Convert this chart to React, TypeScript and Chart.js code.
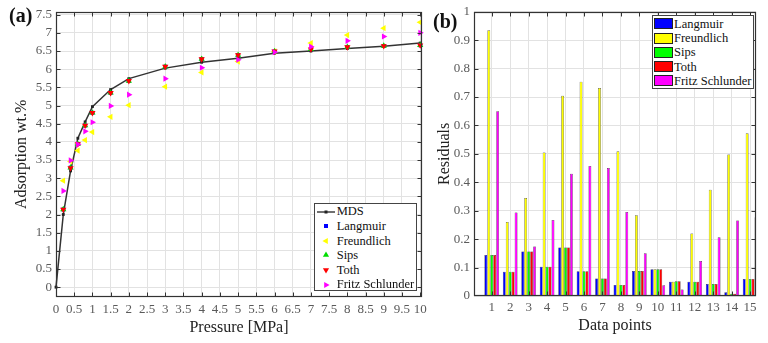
import React, { useEffect, useRef } from 'react';
import { Chart, registerables } from 'chart.js';
Chart.register(...registerables);

// ---------- Panel (a) data ----------
const mdsPressures = [0, 0.2, 0.4, 0.6, 0.8, 1, 1.5, 2, 3, 4, 5, 6, 7, 8, 9, 10];
const mdsValues = [0, 2.0, 3.2, 4.1, 4.55, 4.97, 5.44, 5.74, 6.03, 6.19, 6.3, 6.44, 6.5, 6.57, 6.63, 6.72];
const fitPressures = [0.2, 0.4, 0.6, 0.8, 1, 1.5, 2, 3, 4, 5, 6, 7, 8, 9, 10];
const langmuirFit = [2.14, 3.29, 3.94, 4.45, 4.8, 5.35, 5.68, 6.07, 6.28, 6.39, 6.49, 6.55, 6.61, 6.64, 6.66];
const freundlichFit = [2.93, 3.46, 3.76, 4.05, 4.27, 4.69, 5.01, 5.52, 5.91, 6.21, 6.49, 6.72, 6.94, 7.13, 7.29];
const sipsFit = [2.14, 3.29, 3.94, 4.45, 4.8, 5.35, 5.68, 6.07, 6.28, 6.39, 6.49, 6.55, 6.61, 6.64, 6.66];
const tothFit = [2.14, 3.28, 3.94, 4.45, 4.8, 5.35, 5.68, 6.07, 6.28, 6.39, 6.49, 6.55, 6.61, 6.64, 6.66];
const fritzFit = [2.65, 3.49, 3.93, 4.29, 4.54, 4.99, 5.3, 5.74, 6.04, 6.26, 6.47, 6.62, 6.78, 6.9, 7.0];
const xTicksA = [0, 0.5, 1, 1.5, 2, 2.5, 3, 3.5, 4, 4.5, 5, 5.5, 6, 6.5, 7, 7.5, 8, 8.5, 9, 9.5, 10];
const yTicksA = [0, 0.5, 1, 1.5, 2, 2.5, 3, 3.5, 4, 4.5, 5, 5.5, 6, 6.5, 7, 7.5];

// ---------- Panel (b) data ----------
const dataPoints = [1, 2, 3, 4, 5, 6, 7, 8, 9, 10, 11, 12, 13, 14, 15];
const resLangmuir = [0.144, 0.085, 0.157, 0.103, 0.171, 0.087, 0.062, 0.039, 0.088, 0.094, 0.05, 0.05, 0.042, 0.013, 0.06];
const resFreundlich = [0.935, 0.26, 0.345, 0.505, 0.705, 0.754, 0.732, 0.509, 0.284, 0.094, 0.05, 0.22, 0.374, 0.498, 0.573];
const resSips = [0.144, 0.085, 0.157, 0.103, 0.171, 0.087, 0.062, 0.039, 0.088, 0.094, 0.052, 0.05, 0.042, 0.008, 0.06];
const resToth = [0.144, 0.085, 0.157, 0.103, 0.171, 0.087, 0.062, 0.039, 0.088, 0.094, 0.052, 0.05, 0.042, 0.008, 0.06];
const resFritz = [0.65, 0.294, 0.174, 0.267, 0.43, 0.457, 0.45, 0.296, 0.15, 0.038, 0.023, 0.123, 0.207, 0.266, 0.277];
const yTicksB = [0, 0.1, 0.2, 0.3, 0.4, 0.5, 0.6, 0.7, 0.8, 0.9, 1];

const SERIF = '"Liberation Serif", "Times New Roman", serif';
const TICK_COLOR = '#5a5a5a';
const GRID_COLOR = '#e2e2e2';

const framePlugin = {
  id: 'frameTicks',
  afterDatasetsDraw(chart: any, _args: any, opts: any) {
    const { ctx, chartArea } = chart;
    const left = Math.round(chartArea.left) + 0.5;
    const right = Math.round(chartArea.right) - 0.5;
    const top = Math.round(chartArea.top) + 0.5;
    const bottom = Math.round(chartArea.bottom) - 0.5;
    const len = opts.len ?? 4;
    const xs = chart.scales.x;
    const ys = chart.scales.y;
    ctx.save();
    ctx.strokeStyle = opts.color || '#333';
    ctx.lineWidth = 1;
    ctx.beginPath();
    xs.ticks.forEach((t: any) => {
      const px = Math.round(xs.getPixelForValue(t.value)) + 0.5;
      if (px < left + 1 || px > right - 1) return;
      ctx.moveTo(px, bottom);
      ctx.lineTo(px, bottom - len);
      ctx.moveTo(px, top);
      ctx.lineTo(px, top + len);
    });
    ys.ticks.forEach((t: any) => {
      const py = Math.round(ys.getPixelForValue(t.value)) + 0.5;
      if (py < top + 1 || py > bottom - 1) return;
      ctx.moveTo(left, py);
      ctx.lineTo(left + len, py);
      ctx.moveTo(right, py);
      ctx.lineTo(right - len, py);
    });
    ctx.stroke();
    ctx.lineWidth = 1.2;
    ctx.strokeRect(left, top, right - left, bottom - top);
    ctx.restore();
  },
};

const fmt = (v: number) => String(Number(v.toFixed(2)));

function pts(xs: number[], ys: number[]) {
  return xs.map((x, i) => ({ x, y: ys[i] }));
}

function Tri({ color, rot }: { color: string; rot: number }) {
  return (
    <svg width="10" height="10" viewBox="-5 -5 10 10" style={{ display: 'block' }}>
      <polygon points="0,-3.6 3.1,1.8 -3.1,1.8" fill={color} transform={`rotate(${rot})`} />
    </svg>
  );
}

export default function App() {
  const aRef = useRef<HTMLCanvasElement>(null);
  const bRef = useRef<HTMLCanvasElement>(null);

  useEffect(() => {
    const tickFont = { family: SERIF, size: 13 };
    const titleFont = { family: SERIF, size: 16 };

    const chartA = new Chart(aRef.current as HTMLCanvasElement, {
      type: 'scatter',
      data: {
        datasets: [
          {
            label: 'MDS', data: pts(mdsPressures, mdsValues), showLine: true,
            borderColor: '#333', borderWidth: 1.5, pointStyle: 'rect', pointRadius: 2,
            pointBackgroundColor: '#222', pointBorderColor: '#222', pointBorderWidth: 0, order: 5, clip: false,
          } as any,
          {
            label: 'Langmuir', data: pts(fitPressures, langmuirFit), pointStyle: 'rect', pointRadius: 2.8,
            pointBackgroundColor: '#0000ff', pointBorderWidth: 0, order: 4, clip: false,
          },
          {
            label: 'Freundlich', data: pts(fitPressures, freundlichFit), pointStyle: 'triangle', pointRotation: 270,
            pointRadius: 3.6, pointBackgroundColor: '#ffff00', pointBorderWidth: 0, order: 3, clip: false,
          },
          {
            label: 'Sips', data: pts(fitPressures, sipsFit), pointStyle: 'triangle', pointRotation: 0,
            pointRadius: 3.6, pointBackgroundColor: '#00dd00', pointBorderWidth: 0, order: 2, clip: false,
          },
          {
            label: 'Toth', data: pts(fitPressures, tothFit), pointStyle: 'triangle', pointRotation: 180,
            pointRadius: 3.6, pointBackgroundColor: '#ff0000', pointBorderWidth: 0, order: 1, clip: false,
          },
          {
            label: 'Fritz Schlunder', data: pts(fitPressures, fritzFit), pointStyle: 'triangle', pointRotation: 90,
            pointRadius: 3.6, pointBackgroundColor: '#ff00ff', pointBorderWidth: 0, order: 0, clip: false,
          },
        ] as any,
      },
      options: {
        responsive: false,
        animation: false,
        devicePixelRatio: 1,
        layout: { padding: { left: 0, right: 18, top: 10, bottom: 0 } },
        plugins: { legend: { display: false }, tooltip: { enabled: false }, frameTicks: { len: 4, color: '#333' } } as any,
        scales: {
          x: {
            type: 'linear', min: 0, max: 10.05,
            afterBuildTicks: (s: any) => { s.ticks = xTicksA.map((v) => ({ value: v })); },
            afterFit: (s: any) => { s.height = 46; },
            ticks: { font: tickFont, color: TICK_COLOR, padding: 5, maxRotation: 0, autoSkip: false, callback: (v: any) => fmt(Number(v)) },
            grid: { color: GRID_COLOR, drawTicks: false },
            border: { display: false },
            title: { display: true, text: 'Pressure [MPa]', font: titleFont, color: '#222', padding: { top: 0, bottom: 6 } },
          },
          y: {
            type: 'linear', min: -0.27, max: 7.58,
            afterBuildTicks: (s: any) => { s.ticks = yTicksA.map((v) => ({ value: v })); },
            afterFit: (s: any) => { s.width = 56; },
            ticks: { font: tickFont, color: TICK_COLOR, padding: 4, autoSkip: false, callback: (v: any) => fmt(Number(v)) },
            grid: { color: GRID_COLOR, drawTicks: false },
            border: { display: false },
            title: { display: true, text: 'Adsorption wt.%', font: titleFont, color: '#222', padding: { top: 12, bottom: 0 } },
          },
        },
      } as any,
      plugins: [framePlugin],
    });

    const barDs = (label: string, vals: number[], color: string) => ({
      label, data: pts(dataPoints, vals), backgroundColor: color, borderColor: '#1a1a1a', borderWidth: 0.5,
      categoryPercentage: 0.8, barPercentage: 0.95,
    });

    const chartB = new Chart(bRef.current as HTMLCanvasElement, {
      type: 'bar',
      data: {
        datasets: [
          barDs('Langmuir', resLangmuir, '#0000ff'),
          barDs('Freundlich', resFreundlich, '#ffff00'),
          barDs('Sips', resSips, '#00ff00'),
          barDs('Toth', resToth, '#ff0000'),
          barDs('Fritz Schlunder', resFritz, '#ff00ff'),
        ] as any,
      },
      options: {
        responsive: false,
        animation: false,
        devicePixelRatio: 1,
        layout: { padding: { left: 0, right: 12, top: 11, bottom: 0 } },
        plugins: { legend: { display: false }, tooltip: { enabled: false }, frameTicks: { len: 4, color: '#333' } } as any,
        scales: {
          x: {
            type: 'linear', min: 0.04, max: 15.32, offset: false,
            afterBuildTicks: (s: any) => { s.ticks = dataPoints.map((v) => ({ value: v })); },
            afterFit: (s: any) => { s.height = 47; },
            ticks: { font: tickFont, color: TICK_COLOR, padding: 4, maxRotation: 0, autoSkip: false, callback: (v: any) => fmt(Number(v)) },
            grid: { color: GRID_COLOR, drawTicks: false, offset: false },
            border: { display: false },
            title: { display: true, text: 'Data points', font: titleFont, color: '#222', padding: { top: 0, bottom: 8 } },
          },
          y: {
            type: 'linear', min: 0, max: 1,
            afterBuildTicks: (s: any) => { s.ticks = yTicksB.map((v) => ({ value: v })); },
            afterFit: (s: any) => { s.width = 44; },
            ticks: { font: tickFont, color: TICK_COLOR, padding: 4, autoSkip: false, callback: (v: any) => fmt(Number(v)) },
            grid: { color: GRID_COLOR, drawTicks: false },
            border: { display: false },
            title: { display: true, text: 'Residuals', font: titleFont, color: '#222', padding: { top: 5, bottom: 0 } },
          },
        },
      } as any,
      plugins: [framePlugin],
    });

    return () => { chartA.destroy(); chartB.destroy(); };
  }, []);

  const legendA: { label: string; marker: React.ReactNode }[] = [
    {
      label: 'MDS',
      marker: (
        <svg width="20" height="10" viewBox="0 0 20 10" style={{ display: 'block' }}>
          <line x1="1" y1="5" x2="19" y2="5" stroke="#333" strokeWidth="1.4" />
          <rect x="8.5" y="3.5" width="3" height="3" fill="#222" />
        </svg>
      ),
    },
    { label: 'Langmuir', marker: <svg width="10" height="10" style={{ display: 'block' }}><rect x="3" y="3" width="4" height="4" fill="#0000ff" /></svg> },
    { label: 'Freundlich', marker: <Tri color="#ffff00" rot={270} /> },
    { label: 'Sips', marker: <Tri color="#00dd00" rot={0} /> },
    { label: 'Toth', marker: <Tri color="#ff0000" rot={180} /> },
    { label: 'Fritz Schlunder', marker: <Tri color="#ff00ff" rot={90} /> },
  ];
  const legendB = [
    { label: 'Langmuir', color: '#0000ff' },
    { label: 'Freundlich', color: '#ffff00' },
    { label: 'Sips', color: '#00ff00' },
    { label: 'Toth', color: '#ff0000' },
    { label: 'Fritz Schlunder', color: '#ff00ff' },
  ];

  const legendText: React.CSSProperties = { fontFamily: SERIF, fontSize: 12.5, color: '#111', whiteSpace: 'nowrap' };

  return (
    <div style={{ position: 'fixed', left: 0, top: 0, width: 768, height: 343, background: '#fff', overflow: 'hidden' }}>
      <canvas ref={aRef} width={440} height={343} style={{ position: 'absolute', left: 0, top: 0 }} />
      <canvas ref={bRef} width={338} height={343} style={{ position: 'absolute', left: 430, top: 0 }} />

      <div style={{ position: 'absolute', left: 9, top: 5, fontFamily: SERIF, fontWeight: 'bold', fontSize: 20, lineHeight: '20px', color: '#111' }}>(a)</div>
      <div style={{ position: 'absolute', left: 433, top: 10.5, fontFamily: SERIF, fontWeight: 'bold', fontSize: 20, lineHeight: '20px', color: '#111' }}>(b)</div>

      <div style={{ position: 'absolute', left: 314, top: 203, width: 103, height: 88, boxSizing: 'border-box', border: '1px solid #444', background: '#fff' }}>
        {legendA.map((r, i) => (
          <div key={r.label} style={{ position: 'absolute', left: 0, top: 0.4 + i * 14.6, height: 14.6, width: 101 }}>
            <div style={{ position: 'absolute', left: r.label === 'MDS' ? 1 : 6, top: 2.3 }}>{r.marker}</div>
            <div style={{ position: 'absolute', left: 21.7, top: 0, lineHeight: '14.6px', ...legendText }}>{r.label}</div>
          </div>
        ))}
      </div>

      <div style={{ position: 'absolute', left: 652, top: 15, width: 102, height: 74, boxSizing: 'border-box', border: '1px solid #444', background: '#fff' }}>
        {legendB.map((r, i) => (
          <div key={r.label} style={{ position: 'absolute', left: 0, top: 0.9 + i * 14.25, height: 14.25, width: 100 }}>
            <div style={{ position: 'absolute', left: 1.3, top: 1.6, width: 18.5, height: 11, boxSizing: 'border-box', background: r.color, border: '0.5px solid #222' }} />
            <div style={{ position: 'absolute', left: 21, top: 0, lineHeight: '14.25px', ...legendText }}>{r.label}</div>
          </div>
        ))}
      </div>
    </div>
  );
}
